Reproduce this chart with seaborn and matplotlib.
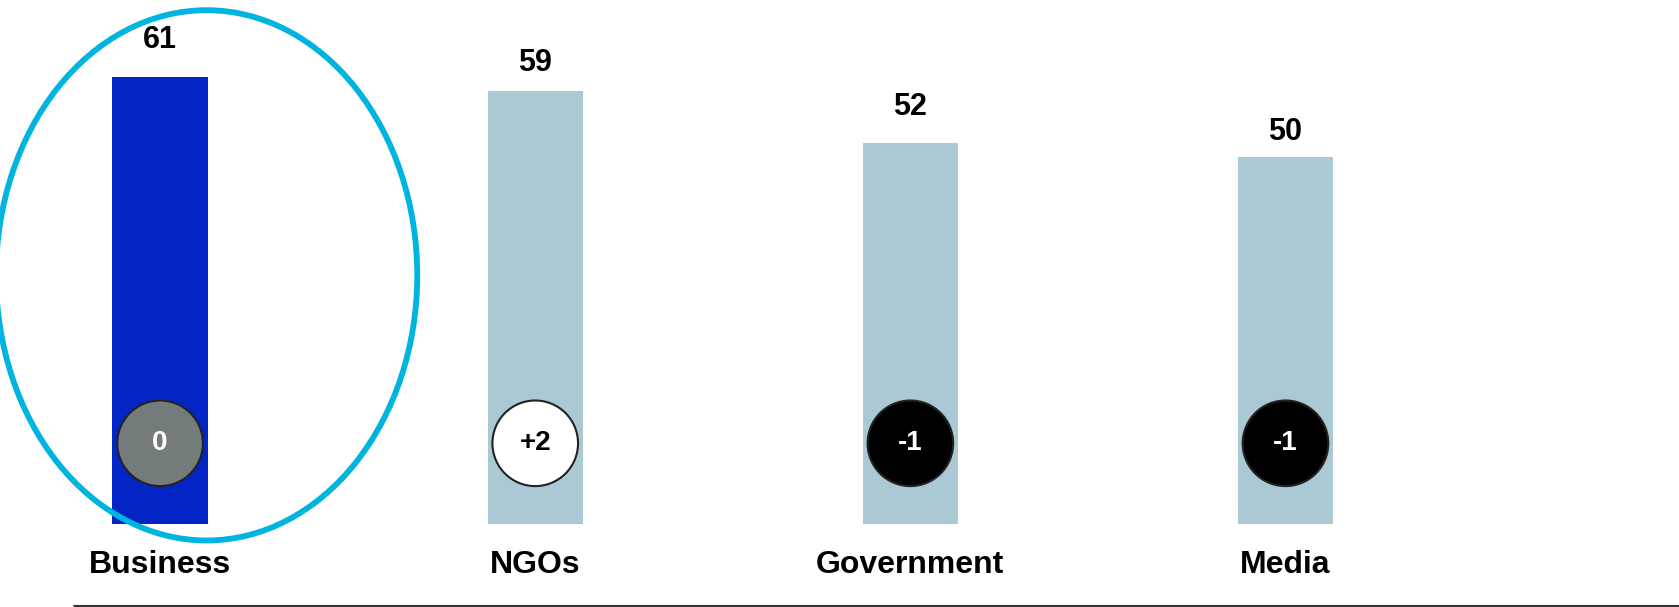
import matplotlib
matplotlib.use("Agg")
import matplotlib.pyplot as plt
from matplotlib.patches import Ellipse
import seaborn as sns
import pandas as pd

categories = ["Business", "NGOs", "Government", "Media"]
values = [61, 59, 52, 50]
changes = ["0", "+2", "-1", "-1"]

bar_colors = ["#0325C6", "#ABC9D4", "#ABC9D4", "#ABC9D4"]
circle_face = ["#737B7B", "#FFFFFF", "#000000", "#000000"]
circle_text = ["#FFFFFF", "#000000", "#FFFFFF", "#FFFFFF"]

# gap between bar top and its value label (as drawn in the original)
label_offsets = [5.0, 3.8, 4.9, 3.5]

sns.set_style("white")
plt.rcParams["font.family"] = ["Liberation Sans", "DejaVu Sans"]

fig = plt.figure(figsize=(16.79, 6.07), dpi=100)
ax = fig.add_axes([0, 0, 1, 1])

df = pd.DataFrame({"cat": categories, "val": values})
sns.barplot(data=df, x="cat", y="val", hue="cat", palette=bar_colors,
            width=0.254, legend=False, ax=ax, saturation=1, linewidth=0)

ax.set_xlim(-0.4268, 4.049)
ax.set_ylim(-11.32, 71.44)
ax.axis("off")

for i, v in enumerate(values):
    ax.text(i, v + label_offsets[i], str(v), ha="center", va="center",
            fontsize=22, fontweight="bold", color="#000000")
    ax.text(i, -5.6, categories[i], ha="center", va="center", fontsize=23,
            fontweight="bold", color="#000000")

ax.scatter(range(len(categories)), [11.0] * len(categories), s=3800,
           c=circle_face, edgecolors="#222222", linewidths=1.5, zorder=3)
for i, c in enumerate(changes):
    ax.text(i, 11.0, c, ha="center", va="center", fontsize=20,
            fontweight="bold", color=circle_text[i], zorder=4)

# bottom rule
ax.plot([-0.232, 4.049], [-11.15, -11.15], color="#333333", lw=2.2,
        clip_on=False, solid_capstyle="butt")

# highlight ellipse
ell = Ellipse((0.124, 33.9), width=1.123, height=72.3, fill=False,
              edgecolor="#00B4E0", lw=4.2, zorder=5)
ax.add_patch(ell)

fig.savefig("out.png", dpi=100)
